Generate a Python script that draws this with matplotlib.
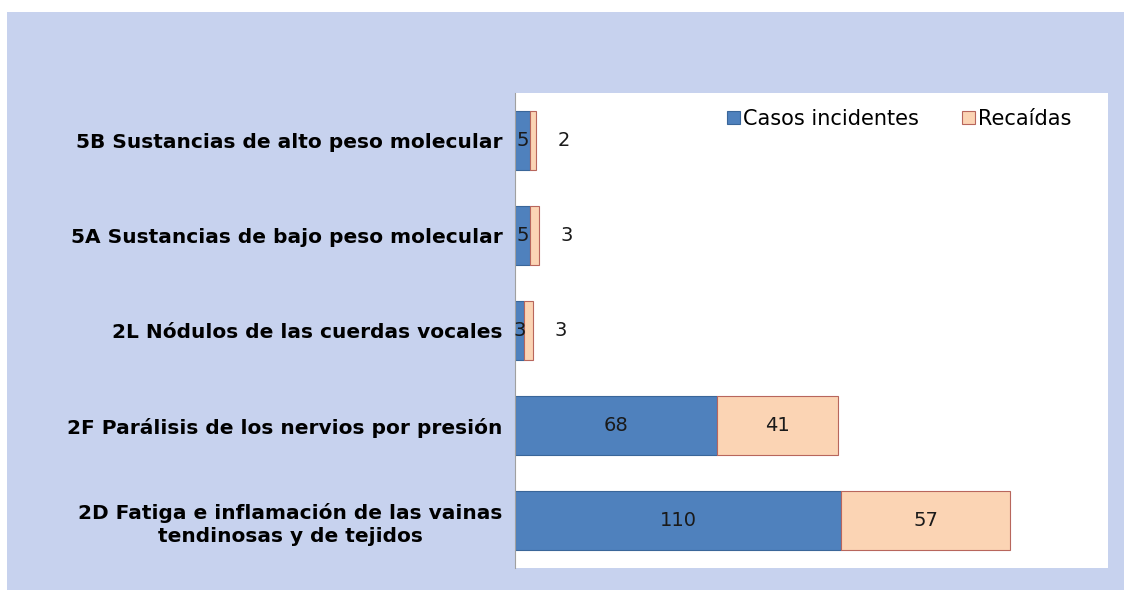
"""
Enfermedades profesionales: casos incidentes y recaidas por grupo
"""

import matplotlib.pyplot as plt
from matplotlib.patches import Rectangle

categories = [
    "2D Fatiga e inflamación de las vainas\ntendinosas y de tejidos",
    "2F Parálisis de los nervios por presión",
    "2L Nódulos de las cuerdas vocales",
    "5A Sustancias de bajo peso molecular",
    "5B Sustancias de alto peso molecular",
]
incidentes = [110, 68, 3, 5, 5]
recaidas = [57, 41, 3, 3, 2]

blue = "#4f81bd"
peach = "#fbd4b4"

plt.rcParams["font.family"] = ["DejaVu Sans"]

fig = plt.figure(figsize=(11.24, 5.90), dpi=100, facecolor="white")
# textured background approximated with a flat lavender-blue
fig.patches.append(
    Rectangle((7 / 1124, 0), 1 - 7 / 1124, 1 - 12 / 590,
              transform=fig.transFigure, facecolor="#c7d2ee",
              edgecolor="none", zorder=-10)
)

ax = fig.add_axes([515 / 1124, 1 - 568 / 590, (1108 - 515) / 1124, (568 - 93) / 590])
ax.set_facecolor("white")

y = range(len(categories))
ax.barh(y, incidentes, height=0.63, color=blue, edgecolor="#3a6699",
        linewidth=0.8, label="Casos incidentes")
ax.barh(y, recaidas, left=incidentes, height=0.63, color=peach,
        edgecolor="#b8665c", linewidth=0.8, label="Recaídas")

for i, (a, r) in enumerate(zip(incidentes, recaidas)):
    ax.text(a / 2, i, str(a), ha="center", va="center", fontsize=14, color="#1a1a1a")
    if r > 10:
        ax.text(a + r / 2, i, str(r), ha="center", va="center", fontsize=14, color="#1a1a1a")
    else:
        ax.annotate(str(r), (a + r, i), xytext=(20, 0), textcoords="offset points",
                    ha="center", va="center", fontsize=14, color="#1a1a1a")

ax.set_xlim(0, 200)
ax.set_ylim(-0.5, 4.5)
ax.set_xticks([])
ax.set_yticks(list(y))
ax.set_yticklabels(categories, fontsize=14.5, fontweight="bold",
                   multialignment="center", linespacing=1.25)
ax.tick_params(axis="y", length=0, pad=9)
for side in ["top", "right", "bottom"]:
    ax.spines[side].set_visible(False)
ax.spines["left"].set_color("#a0a0a0")

ax.legend(loc="upper right", bbox_to_anchor=(0.963, 0.998), ncol=2, frameon=False,
          fontsize=15, handlelength=0.6, handleheight=0.6, handletextpad=0.15,
          columnspacing=2.1, borderaxespad=0.3)

fig.savefig("out.png", dpi=100, facecolor=fig.get_facecolor())
